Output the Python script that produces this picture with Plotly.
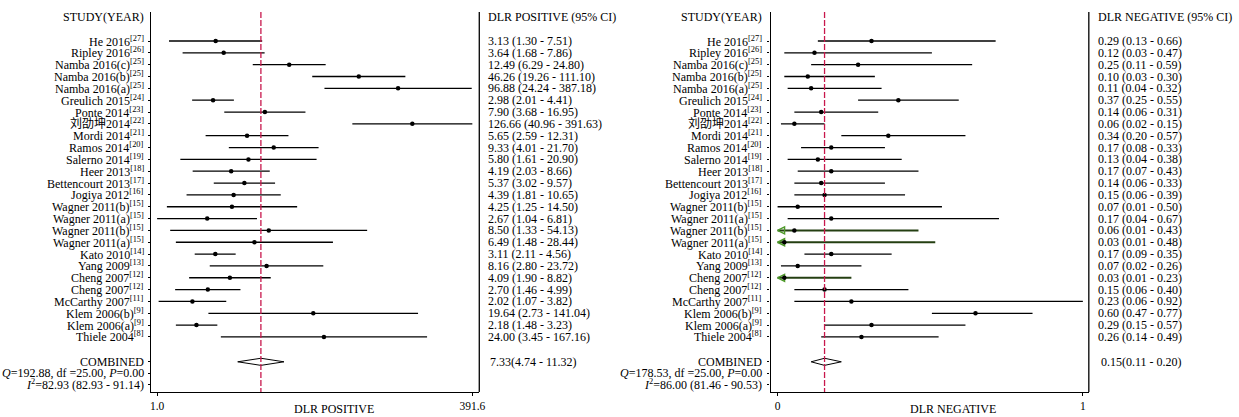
import math
import plotly.graph_objects as go

# ---------------- data ----------------
studies = ["He 2016", "Ripley 2016", "Namba 2016(c)", "Namba 2016(b)", "Namba 2016(a)",
           "Greulich 2015", "Ponte 2014", "刘劭坤2014", "Mordi 2014", "Ramos 2014",
           "Salerno 2014", "Heer 2013", "Bettencourt 2013", "Jogiya 2012",
           "Wagner 2011(b)", "Wagner 2011(a)", "Wagner 2011(b)", "Wagner 2011(a)",
           "Kato 2010", "Yang 2009", "Cheng 2007", "Cheng 2007", "McCarthy 2007",
           "Klem 2006(b)", "Klem 2006(a)", "Thiele 2004"]
refs = [27, 26, 25, 25, 25, 24, 23, 22, 21, 20, 19, 18, 17, 16, 15, 15, 15, 15,
        14, 13, 12, 12, 11, 9, 9, 8]

pos_est = [3.13, 3.64, 12.49, 46.26, 96.88, 2.98, 7.90, 126.66, 5.65, 9.33, 5.80, 4.19,
           5.37, 4.39, 4.25, 2.67, 8.50, 6.49, 3.11, 8.16, 4.09, 2.70, 2.02, 19.64, 2.18, 24.00]
pos_lo = [1.30, 1.68, 6.29, 19.26, 24.24, 2.01, 3.68, 40.96, 2.59, 4.01, 1.61, 2.03,
          3.02, 1.81, 1.25, 1.04, 1.33, 1.48, 2.11, 2.80, 1.90, 1.46, 1.07, 2.73, 1.48, 3.45]
pos_hi = [7.51, 7.86, 24.80, 111.10, 387.18, 4.41, 16.95, 391.63, 12.31, 21.70, 20.90, 8.66,
          9.57, 10.65, 14.50, 6.81, 54.13, 28.44, 4.56, 23.72, 8.82, 4.99, 3.82, 141.04, 3.23, 167.16]
pos_combined = [7.33, 4.74, 11.32]
pos_q = "<i>Q</i>=192.88, df =25.00, <i>P</i>=0.00"
pos_i2 = "<i>I</i><sup>2</sup>=82.93 (82.93 - 91.14)"

neg_est = [0.29, 0.12, 0.25, 0.10, 0.11, 0.37, 0.14, 0.06, 0.34, 0.17, 0.13, 0.17,
           0.14, 0.15, 0.07, 0.17, 0.06, 0.03, 0.17, 0.07, 0.03, 0.15, 0.23, 0.60, 0.29, 0.26]
neg_lo = [0.13, 0.03, 0.11, 0.03, 0.04, 0.25, 0.06, 0.02, 0.20, 0.08, 0.04, 0.07,
          0.06, 0.06, 0.01, 0.04, 0.01, 0.01, 0.09, 0.02, 0.01, 0.06, 0.06, 0.47, 0.15, 0.14]
neg_hi = [0.66, 0.47, 0.59, 0.30, 0.32, 0.55, 0.31, 0.15, 0.57, 0.33, 0.38, 0.43,
          0.33, 0.39, 0.50, 0.67, 0.43, 0.48, 0.35, 0.26, 0.23, 0.40, 0.92, 0.77, 0.57, 0.49]
neg_truncated = [False] * 16 + [True, True, False, False, True] + [False] * 5
neg_combined = [0.15, 0.11, 0.20]
neg_q = "<i>Q</i>=178.53, df =25.00, <i>P</i>=0.00"
neg_i2 = "<i>I</i><sup>2</sup>=86.00 (81.46 - 90.53)"

# ---------------- layout helpers ----------------
W, H = 1239, 417
SERIF = "Liberation Serif, Noto Sans CJK SC, serif"
FS = 12
rows = list(range(1, len(studies) + 1))
y_comb, y_q, y_i2, y_head = 28.1, 29.05, 30.0, -1.0
y_top, y_bot = -1.45, 30.65
DASH_COL = "#c8174c"
GREEN_LINE = "#243f12"
GREEN_ARROW = "#4e9a2a"

fig = go.Figure()


def add_panel(xa, ya, est, lo, hi, comb, trunc=None):
    xs, ys, gxs, gys = [], [], [], []
    for i, r in enumerate(rows):
        if trunc is not None and trunc[i]:
            gxs += [lo[i], hi[i], None]
            gys += [r, r, None]
        else:
            xs += [lo[i], hi[i], None]
            ys += [r, r, None]
    fig.add_trace(go.Scatter(x=xs, y=ys, mode="lines", xaxis=xa, yaxis=ya,
                             line=dict(color="black", width=1.3), hoverinfo="skip"))
    if gxs:
        fig.add_trace(go.Scatter(x=gxs, y=gys, mode="lines", xaxis=xa, yaxis=ya,
                                 line=dict(color=GREEN_LINE, width=2), hoverinfo="skip"))
        ax = [lo[i] for i in range(len(rows)) if trunc[i]]
        ay = [rows[i] for i in range(len(rows)) if trunc[i]]
        fig.add_trace(go.Scatter(x=ax, y=ay, mode="markers", xaxis=xa, yaxis=ya,
                                 marker=dict(symbol="arrow-left-open", size=7,
                                             color=GREEN_ARROW,
                                             line=dict(color=GREEN_ARROW, width=1.4)),
                                 hoverinfo="skip"))
    fig.add_trace(go.Scatter(x=est, y=rows, mode="markers", xaxis=xa, yaxis=ya,
                             marker=dict(color="black", size=4.5), hoverinfo="skip"))
    h = 0.3
    fig.add_trace(go.Scatter(x=[comb[1], comb[0], comb[2], comb[0], comb[1]],
                             y=[y_comb, y_comb - h, y_comb, y_comb + h, y_comb],
                             mode="lines", fill="toself", fillcolor="white",
                             xaxis=xa, yaxis=ya,
                             line=dict(color="black", width=1), hoverinfo="skip"))
    fig.add_trace(go.Scatter(x=[comb[0], comb[0]], y=[y_top, y_bot], mode="lines",
                             xaxis=xa, yaxis=ya,
                             line=dict(color=DASH_COL, width=1.3, dash="6px,2px"),
                             hoverinfo="skip"))


add_panel("x", "y", pos_est, pos_lo, pos_hi, pos_combined)
add_panel("x2", "y2", neg_est, neg_lo, neg_hi, neg_combined, neg_truncated)

p_min, p_max = min(pos_lo), max(pos_hi)
lmin, lmax = math.log10(p_min), math.log10(p_max)
lspan = lmax - lmin
pos_range = [lmin - 6 / 317 * lspan, lmax + 7 / 317 * lspan]
n_min, n_max = min(neg_lo), max(neg_hi)
nspan = n_max - n_min
neg_range = [n_min - 7 / 307 * nspan, n_max + 6 / 307 * nspan]

ytickvals = rows + [y_comb, y_q, y_i2]
common_x = dict(showgrid=False, zeroline=False, showline=True, linecolor="black",
                linewidth=1.3, ticks="outside", ticklen=3, tickcolor="black",
                tickfont=dict(family=SERIF, size=11.5, color="black"))
common_y = dict(showgrid=False, zeroline=False, showline=True, linecolor="black",
                linewidth=1.3, ticks="outside", ticklen=2, tickcolor="black",
                showticklabels=False, range=[y_bot, y_top], tickvals=ytickvals,
                domain=[0, 1])

fig.update_layout(
    width=W, height=H, margin=dict(l=0, r=0, t=12, b=25),
    plot_bgcolor="white", paper_bgcolor="white", showlegend=False,
    xaxis=dict(domain=[151 / W, 481 / W], type="log", range=pos_range,
               tickvals=[p_min, p_max], ticktext=[f"{p_min:.1f}", f"{p_max:.1f}"],
               anchor="y", **common_x),
    yaxis=dict(anchor="x", **common_y),
    xaxis2=dict(domain=[774 / W, 1094 / W], type="linear", range=neg_range,
                tickvals=[n_min, n_max], ticktext=[f"{n_min:.0f}", f"{n_max:.0f}"],
                anchor="y2", **common_x),
    yaxis2=dict(anchor="x2", **common_y),
)

for xr, yr in (("x domain", "y domain"), ("x2 domain", "y2 domain")):
    fig.add_shape(type="line", xref=xr, yref=yr, x0=1, x1=1, y0=0, y1=1,
                  line=dict(color="black", width=1.3))

ann = []


def txt(x_px, yref, y, text, anchor):
    ann.append(dict(x=x_px / W, xref="paper", y=y, yref=yref, text=text,
                    xanchor=anchor, yanchor="middle", showarrow=False,
                    font=dict(family=SERIF, size=FS, color="black")))


def panel_text(yref, lab_x, val_x, comb_x, est, lo, hi, comb, q, i2, title):
    txt(lab_x, yref, y_head, "STUDY(YEAR)", "right")
    txt(val_x, yref, y_head, title, "left")
    for i, r in enumerate(rows):
        txt(lab_x, yref, r, f"{studies[i]}<sup>[{refs[i]}]</sup>", "right")
        txt(val_x, yref, r, f"{est[i]:.2f} ({lo[i]:.2f} - {hi[i]:.2f})", "left")
    txt(lab_x, yref, y_comb, "COMBINED", "right")
    txt(comb_x, yref, y_comb, f"{comb[0]:.2f}({comb[1]:.2f} - {comb[2]:.2f})", "left")
    txt(lab_x, yref, y_q, q, "right")
    txt(lab_x, yref, y_i2, i2, "right")


panel_text("y", 146, 488, 490, pos_est, pos_lo, pos_hi, pos_combined, pos_q, pos_i2,
           "DLR POSITIVE (95% CI)")
panel_text("y2", 767, 1101, 1104, neg_est, neg_lo, neg_hi, neg_combined, neg_q, neg_i2,
           "DLR NEGATIVE (95% CI)")

for xc, t in ((335, "DLR POSITIVE"), (957, "DLR NEGATIVE")):
    ann.append(dict(x=xc / W, xref="paper", y=-(409 - 392) / 380, yref="paper", text=t,
                    xanchor="center", yanchor="middle", showarrow=False,
                    font=dict(family=SERIF, size=FS, color="black")))

fig.update_layout(annotations=ann)
fig.write_html("out.html")
